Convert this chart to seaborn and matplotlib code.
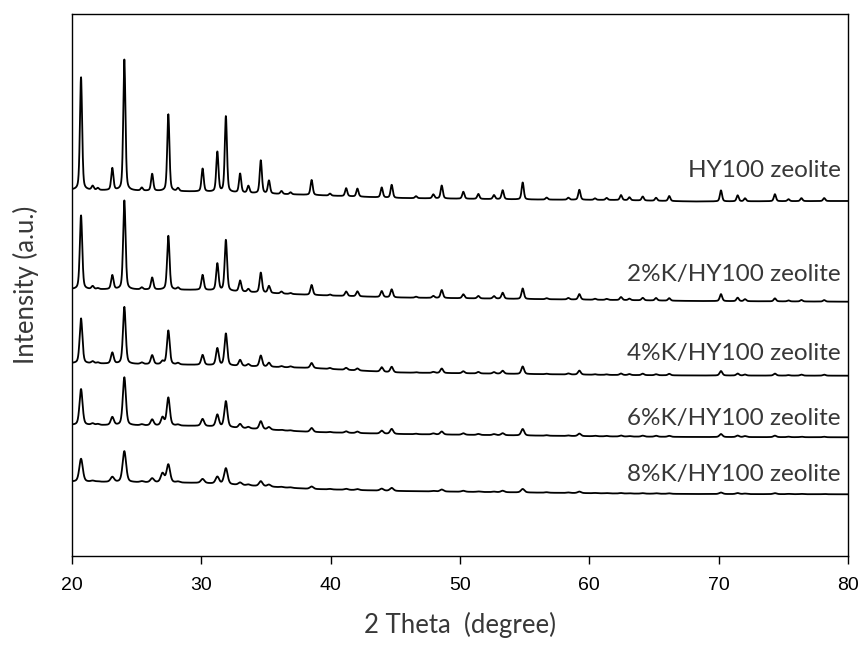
import numpy as np
import pandas as pd
import matplotlib
matplotlib.use("Agg")
import matplotlib.pyplot as plt
import seaborn as sns

# Reflection positions (2θ, degrees) shared by all samples
peak_pos = [20.70, 21.60, 22.00, 23.12, 24.05, 25.40, 26.20, 27.00, 27.45, 28.20,
            30.10, 31.24, 31.90, 33.00, 33.64, 34.60, 35.23, 36.20, 36.90, 38.53,
            39.95, 41.20, 42.07, 43.95, 44.72, 46.60, 47.94, 48.59, 50.26, 51.42,
            52.63, 53.30, 54.85, 56.70, 58.38, 59.23, 60.44, 61.34, 62.45, 63.10,
            64.13, 65.16, 66.18, 70.18, 71.47, 72.04, 74.35, 75.40, 76.40, 78.16]

# Peak intensities above background (a.u.) for each sample
int_hy100 = [113, 4, 2, 22, 131, 3, 17, 0, 77, 3,
             23, 40, 76, 19, 7, 33, 13, 3, 2, 15,
             2, 8, 8, 10, 13, 2, 4, 13, 7, 5,
             4, 9, 17, 2, 2, 10, 1.5, 2, 5, 3,
             4, 3, 5, 11, 6, 3, 7, 2, 3, 3]
int_k2 = [74, 3, 1, 14, 89, 2, 12, 0, 54, 2,
          15, 27, 51, 11, 3, 20, 7, 2, 1, 10,
          1, 4.5, 5, 6, 8, 1, 2, 8, 4, 2.5,
          2.5, 6, 10.5, 1, 1.5, 5.5, 1, 1, 3, 1.5,
          2.5, 2.5, 2.5, 7, 3.5, 2, 3, 1, 1.5, 1.5]
int_k4 = [45, 2, 1, 11, 57, 1.5, 9, 3, 34, 1.5,
          10, 17, 32, 6, 2, 11, 4, 1, 1, 5,
          1, 2, 2, 4.5, 5.5, 0.5, 1, 4.5, 2, 1.5,
          1.5, 3, 7.5, 0.5, 1, 4, 0.5, 0.5, 1.5, 1,
          1.5, 1, 1.5, 4.5, 2, 1, 2, 0.5, 1, 1]
int_k6 = [36, 1.5, 1, 8, 48, 1, 6, 8, 28, 1,
          7, 12, 26, 4, 1.5, 8, 2.5, 0.5, 0.5, 4,
          0.5, 1.5, 1.5, 3, 5, 0.5, 1, 3, 1.5, 1,
          1, 2, 6.5, 0.5, 0.5, 2.5, 0.5, 0.5, 1, 0.5,
          1, 1, 1, 3, 1.5, 1, 1.5, 0.5, 0.5, 0.5]
int_k8 = [23, 1, 0.5, 5, 31, 1, 4, 9, 18, 1,
          4, 7, 16, 2.5, 1, 5, 2, 0.5, 0.5, 2.5,
          0.5, 1, 1, 2, 3, 0, 0.5, 2, 1, 0.5,
          0.5, 1.5, 3.5, 0.5, 0.5, 1.5, 0.3, 0.3, 0.5, 0.3,
          0.5, 0.5, 0.5, 1.5, 1, 0.5, 1, 0.3, 0.3, 0.3]

# Background level (stacked, a.u.) at a few 2θ anchor points
bg_pos = [20, 30, 38.5, 45, 55, 62, 68, 80]
bg_hy100 = [366, 364.3, 361, 358, 356.5, 356, 354.5, 355]
bg_k2 = [266.7, 266, 261, 258.5, 257, 256, 255, 254.3]
bg_k4 = [192.7, 191, 188, 183.5, 182, 181, 180.5, 180.3]
bg_k6 = [131, 130, 124, 122, 120.5, 119.5, 119, 118.7]
bg_k8 = [74.3, 73, 67, 65, 63.5, 62.5, 62, 61.7]

labels = ["HY100 zeolite", "2%K/HY100 zeolite", "4%K/HY100 zeolite",
          "6%K/HY100 zeolite", "8%K/HY100 zeolite"]
label_y = [385.3, 281.7, 202, 137.7, 81]

samples = [
    (labels[0], int_hy100, bg_hy100, 0.20),
    (labels[1], int_k2, bg_k2, 0.22),
    (labels[2], int_k4, bg_k4, 0.25),
    (labels[3], int_k6, bg_k6, 0.28),
    (labels[4], int_k8, bg_k8, 0.32),
]

two_theta = np.linspace(20, 80, 4001)


def pattern(heights, bg, fwhm):
    """Pseudo-Voigt peaks on an interpolated background."""
    y = np.interp(two_theta, bg_pos, bg)
    for p, h in zip(peak_pos, heights):
        d = (two_theta - p) / (fwhm / 2)
        lor = 1.0 / (1.0 + d ** 2)
        gau = np.exp(-np.log(2) * d ** 2)
        y = y + h * (0.4 * lor + 0.6 * gau)
    return y


frames = []
for name, heights, bg, fwhm in samples:
    frames.append(pd.DataFrame({"2theta": two_theta,
                                "intensity": pattern(heights, bg, fwhm),
                                "sample": name}))
df = pd.concat(frames, ignore_index=True)

sns.set_style("ticks")
plt.rcParams["font.family"] = ["Liberation Sans", "DejaVu Sans"]

fig = plt.figure(figsize=(8.63, 6.45), dpi=100)
ax = fig.add_axes([0.0834, 0.138, 0.8992, 0.8403])

sns.lineplot(data=df, x="2theta", y="intensity", units="sample",
             estimator=None, color="black", linewidth=1.3, ax=ax,
             sort=False, legend=False)

label_font = ["Lato", "DejaVu Sans"]
for name, yy in zip(labels, label_y):
    ax.text(79.45, yy, name, ha="right", va="center", fontsize=17.5,
            color="#383838", family=label_font, fontweight="normal")

ax.set_xlim(20, 80)
ax.set_ylim(0, 542)
ax.set_xticks([20, 30, 40, 50, 60, 70, 80])
ax.set_yticks([])
ax.tick_params(axis="x", direction="out", length=6, width=1, labelsize=14,
               pad=9, colors="black")
for s in ax.spines.values():
    s.set_visible(True)
    s.set_color("black")
    s.set_linewidth(1.0)

ax.set_xlabel("2 Theta  (degree)", fontsize=18.5, color="#383838",
              family=label_font, fontweight="normal", labelpad=13)
ax.set_ylabel("Intensity (a.u.)", fontsize=18.5, color="#383838",
              family=label_font, fontweight="normal", labelpad=24)

fig.savefig("out.png", dpi=100)
